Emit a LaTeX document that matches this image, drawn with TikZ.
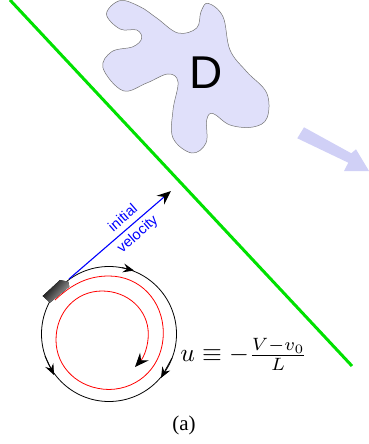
\documentclass[tikz,border=0pt]{standalone}
\usepackage{fontspec}
\setmainfont{Liberation Serif}
\setsansfont{Liberation Sans}
\usepackage{amsmath}
\usetikzlibrary{arrows.meta}
\definecolor{blobfill}{RGB}{224,224,250}
\definecolor{palearrow}{RGB}{208,208,246}
\definecolor{linegreen}{RGB}{0,225,0}
\tikzset{
  head/.style={-{Stealth[length=14pt,width=11.5pt,inset=5pt,color=black]}},
  smallhead/.style={-{Stealth[length=11pt,width=9pt,inset=4pt,color=black]}},
  blob/.style={draw=black!55,line width=0.5pt,fill=blobfill},
  lbl/.style={font=\sffamily\fontsize{14.5}{15}\selectfont,text=blue,rotate=41,inner sep=0pt}
}
\begin{document}
\begin{tikzpicture}[x=1pt,y=-1pt]
\useasboundingbox (0,0) rectangle (369,444);
% obstacle
\draw[blob] plot[smooth cycle,tension=0.62] coordinates {
 (106.5,14) (120,0.6) (140,6.7) (156.7,18) (178,33) (196.7,28) (201,11.7) (208,3.3)
 (223,16.7) (230,50) (246.7,71.7) (266.7,93) (267,118) (253,127) (230,125) (213,113.5)
 (206.7,120) (206,143) (191.7,153) (173,138) (173,110) (178,82) (168,74) (146.7,83)
 (123,90.7) (103,68) (111.7,51.7) (133,46.7) (141.7,38.3) (136.7,30) (120,29)};
\node[font=\sffamily\fontsize{46}{46}\selectfont,inner sep=0pt] (dlabel) at (206,72.5) {D};
% green wall
\coordinate (wallA) at (10,0);
\coordinate (wallB) at (352,366);
\draw[linegreen,line width=3pt] (wallA) -- (wallB);
% direction arrow
\fill[palearrow] (304,127.3) -- (351.3,153.3) -- (356,149.3) -- (369,171) -- (344,171)
  -- (348.3,162.7) -- (297.3,138.3) -- cycle;
% red spiral
\draw[red,line width=0.8pt,head] (55,300)
  .. controls (72,284) and (88,276) .. (109,276)
  .. controls (140,276) and (163.3,301) .. (163.3,333)
  .. controls (163.3,365) and (140,389) .. (109,389.5)
  .. controls (78,389) and (56,367) .. (56,340)
  .. controls (56,312) and (76,291) .. (102,291)
  .. controls (128,291) and (148.3,310) .. (148.3,334)
  .. controls (148.3,346) and (144,357) .. (135,367);
% black orbit
\draw[black,line width=0.8pt] (109,334) circle[radius=67.5];
\coordinate (a1) at (122,267.6); \coordinate (a2) at (134,270.5);
\coordinate (b1) at (45,356); \coordinate (b2) at (54,375);
\coordinate (c1) at (172,358); \coordinate (c2) at (161,378);
\draw[smallhead,line width=0.8pt] (a1) -- (a2);
\draw[smallhead,line width=0.8pt] (b1) -- (b2);
\draw[smallhead,line width=0.8pt] (c1) -- (c2);
% vehicle
\fill[left color=black,right color=black!30,shading angle=50]
  (42.7,296) -- (60,280) -- (68.3,281.7) -- (69.3,286.7) -- (50,302.7) -- cycle;
% velocity
\coordinate (v0) at (69,279);
\coordinate (v1) at (171,191);
\draw[head,blue,line width=1.1pt] (v0) -- (v1);
\node[lbl] (ini) at (122.5,217.5) {initial};
\node[lbl] (vel) at (138,234.5) {velocity};
% labels
\node[inner sep=0pt,scale=2.55] (eq) at (244,354.5) {$u\equiv -\frac{V-v_0}{L}$};
\node[inner sep=0pt,font=\fontsize{21}{22}\selectfont] (cap) at (184,425.5) {(a)};
\end{tikzpicture}
\end{document}
